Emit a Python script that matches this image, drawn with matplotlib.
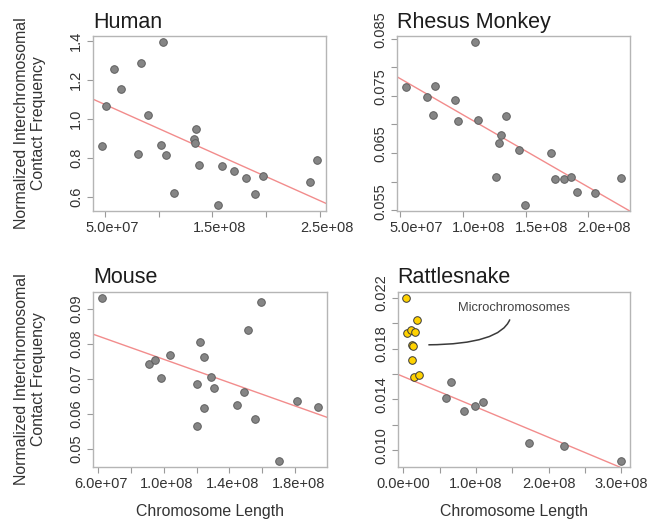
import numpy as np
import matplotlib
matplotlib.use("Agg")
import matplotlib.pyplot as plt
from matplotlib.path import Path
from matplotlib.patches import PathPatch
from matplotlib.transforms import ScaledTranslation

plt.rcParams["font.family"] = ["Liberation Sans", "DejaVu Sans"]

# ---------------- data ----------------
human_len = [4.69e7, 5.09e7, 5.87e7, 6.46e7, 8.04e7, 8.32e7, 9.04e7, 1.019e8,
             1.040e8, 1.068e8, 1.140e8, 1.329e8, 1.336e8, 1.348e8, 1.379e8,
             1.556e8, 1.587e8, 1.702e8, 1.811e8, 1.895e8, 1.975e8, 2.410e8, 2.478e8]
human_freq = [0.862, 1.067, 1.253, 1.150, 0.819, 1.285, 1.021, 0.868,
              1.390, 0.814, 0.619, 0.897, 0.877, 0.949, 0.761,
              0.561, 0.759, 0.730, 0.696, 0.617, 0.709, 0.675, 0.788]

rhesus_len = [5.42e7, 7.09e7, 7.57e7, 7.78e7, 9.34e7, 9.60e7, 1.095e8, 1.119e8,
              1.259e8, 1.283e8, 1.304e8, 1.341e8, 1.450e8, 1.497e8, 1.698e8,
              1.730e8, 1.804e8, 1.862e8, 1.910e8, 2.053e8, 2.259e8]
rhesus_freq = [0.07655, 0.07481, 0.07160, 0.07667, 0.07428, 0.07067, 0.08436, 0.07079,
               0.06083, 0.06683, 0.06822, 0.07149, 0.06560, 0.05599, 0.06508,
               0.06054, 0.06042, 0.06077, 0.05826, 0.05803, 0.06071]

mouse_len = [6.21e7, 9.08e7, 9.49e7, 9.81e7, 1.0405e8, 1.200e8, 1.2016e8, 1.218e8,
             1.2424e8, 1.2465e8, 1.2893e8, 1.3035e8, 1.4483e8, 1.4911e8, 1.5115e8,
             1.5584e8, 1.5931e8, 1.7011e8, 1.8091e8, 1.9417e8]
mouse_freq = [0.09305, 0.07438, 0.07552, 0.07029, 0.07686, 0.05648, 0.06857, 0.08057,
              0.07629, 0.06171, 0.07067, 0.06743, 0.06248, 0.06629, 0.08390,
              0.05857, 0.09200, 0.04667, 0.06362, 0.06200]

snake_macro_len = [5.84e7, 6.62e7, 8.36e7, 9.86e7, 1.091e8, 1.726e8, 2.215e8, 3.0e8]
snake_macro_freq = [0.01410, 0.01537, 0.01305, 0.01345, 0.01376, 0.01055, 0.01029, 0.00918]
snake_micro_len = [4.1e6, 1.83e7, 5.5e6, 1.0e7, 1.55e7, 1.15e7, 1.30e7, 1.19e7, 1.46e7, 2.10e7]
snake_micro_freq = [0.02197, 0.02029, 0.01924, 0.01945, 0.01934, 0.01828, 0.01822,
                    0.01711, 0.01576, 0.01589]

# tick positions and the labels shown under them ("" = unlabeled tick)
human_xticks = [5e7, 1e8, 1.5e8, 2e8, 2.5e8]
human_xlabels = ["5.0e+07", "", "1.5e+08", "", "2.5e+08"]
human_yticks = [0.6, 0.8, 1.0, 1.2, 1.4]
human_ylabels = ["0.6", "0.8", "1.0", "1.2", "1.4"]

rhesus_xticks = [5e7, 1e8, 1.5e8, 2e8]
rhesus_xlabels = ["5.0e+07", "1.0e+08", "1.5e+08", "2.0e+08"]
rhesus_yticks = [0.055, 0.060, 0.065, 0.070, 0.075, 0.080, 0.085]
rhesus_ylabels = ["0.055", "", "0.065", "", "0.075", "", "0.085"]

mouse_xticks = [6e7, 8e7, 1e8, 1.2e8, 1.4e8, 1.6e8, 1.8e8]
mouse_xlabels = ["6.0e+07", "", "1.0e+08", "", "1.4e+08", "", "1.8e+08"]
mouse_yticks = [0.05, 0.06, 0.07, 0.08, 0.09]
mouse_ylabels = ["0.05", "0.06", "0.07", "0.08", "0.09"]

snake_xticks = [0, 5e7, 1e8, 1.5e8, 2e8, 2.5e8, 3e8]
snake_xlabels = ["0.0e+00", "", "1.0e+08", "", "2.0e+08", "", "3.0e+08"]
snake_yticks = [0.010, 0.012, 0.014, 0.016, 0.018, 0.020, 0.022]
snake_ylabels = ["0.010", "", "0.014", "", "0.018", "", "0.022"]

# ---------------- styling ----------------
W, H = 658, 525
GREY_FILL = "#858585"
GREY_EDGE = "#5e5e5e"
GOLD_FILL = "#FFD200"
GOLD_EDGE = "#3a3a3a"
FIT_COLOR = "#F28C8C"
FRAME = "#b5b5b5"
TEXT = "#333333"

fig = plt.figure(figsize=(W / 100, H / 100), dpi=100)


def box(l, t, r, b):
    return [l / W, 1 - b / H, (r - l) / W, (b - t) / H]


def padded(vals, frac=0.04):
    lo, hi = min(vals), max(vals)
    d = (hi - lo) * frac
    return lo - d, hi + d


def nudge(labels, dx_px, dy_px):
    off = ScaledTranslation(dx_px / 100, dy_px / 100, fig.dpi_scale_trans)
    for lab in labels:
        lab.set_transform(lab.get_transform() + off)


def panel(rect, title, xs, ys, xticks, xlabels, yticks, ylabels, fit_x, fit_y,
          extra=None, xshift=0, yshift=0):
    ax = fig.add_axes(rect)
    all_x = list(xs) + (list(extra[0]) if extra else [])
    all_y = list(ys) + (list(extra[1]) if extra else [])
    ax.set_xlim(*padded(all_x))
    ax.set_ylim(*padded(all_y))
    slope, intercept = np.polyfit(fit_x, fit_y, 1)
    ax.axline((0, intercept), slope=slope, color=FIT_COLOR, lw=1.0, zorder=2)
    ax.scatter(xs, ys, s=30, c=GREY_FILL, edgecolors=GREY_EDGE, linewidths=0.7,
               zorder=3)
    if extra:
        ax.scatter(extra[0], extra[1], s=30, c=GOLD_FILL, edgecolors=GOLD_EDGE,
                   linewidths=0.7, zorder=3)
    ax.set_xticks(xticks)
    xl = ax.set_xticklabels(xlabels)
    ax.set_yticks(yticks)
    yl = ax.set_yticklabels(ylabels, rotation=90, va="center")
    ax.tick_params(axis="both", length=4, width=0.8, color="#9a9a9a",
                   labelcolor=TEXT, labelsize=10.5)
    ax.tick_params(axis="x", pad=3)
    ax.tick_params(axis="y", pad=3)
    if xshift:
        nudge(xl, xshift, 0)
    if yshift:
        nudge(yl, 0, yshift)
    for sp in ax.spines.values():
        sp.set_color(FRAME)
        sp.set_linewidth(1.0)
    ax.set_title(title, loc="left", fontsize=15.5, color="#1c1c1c", pad=6)
    return ax


ax_h = panel(box(93, 36, 326, 211), "Human", human_len, human_freq,
             human_xticks, human_xlabels, human_yticks, human_ylabels,
             human_len, human_freq, xshift=7)
ax_r = panel(box(397, 36, 629.5, 211), "Rhesus Monkey", rhesus_len, rhesus_freq,
             rhesus_xticks, rhesus_xlabels, rhesus_yticks, rhesus_ylabels,
             rhesus_len, rhesus_freq, xshift=16, yshift=9)
ax_m = panel(box(93, 291.7, 327, 467), "Mouse", mouse_len, mouse_freq,
             mouse_xticks, mouse_xlabels, mouse_yticks, mouse_ylabels,
             mouse_len, mouse_freq, xshift=3)
ax_s = panel(box(397.7, 291.7, 630, 467), "Rattlesnake", snake_macro_len,
             snake_macro_freq, snake_xticks, snake_xlabels, snake_yticks,
             snake_ylabels, snake_macro_len, snake_macro_freq,
             extra=(snake_micro_len, snake_micro_freq), yshift=5)

# microchromosome callout
ax_s.text(0.502, 0.905, "Microchromosomes", transform=ax_s.transAxes,
          ha="center", va="center", fontsize=9.3, color="#444444")
curve = Path([(0.132, 0.697), (0.44, 0.70), (0.483, 0.842)],
             [Path.MOVETO, Path.CURVE3, Path.CURVE3])
ax_s.add_patch(PathPatch(curve, transform=ax_s.transAxes, fill=False,
                         edgecolor="#3a3a3a", lw=1.1, zorder=4))

# shared axis titles
ylab = "Normalized Interchromosomal\nContact Frequency"
for top, bot in [(36, 211), (291.7, 467)]:
    fig.text(30 / W, 1 - (top + bot) / 2 / H, ylab, rotation=90, ha="center",
             va="center", multialignment="center", fontsize=11.4, color=TEXT,
             linespacing=1.15)
for left, right in [(93, 327), (397.7, 630)]:
    fig.text((left + right) / 2 / W, 1 - 511.7 / H, "Chromosome Length",
             ha="center", va="center", fontsize=11.4, color=TEXT)

fig.savefig("out.png", dpi=100, facecolor="white")
